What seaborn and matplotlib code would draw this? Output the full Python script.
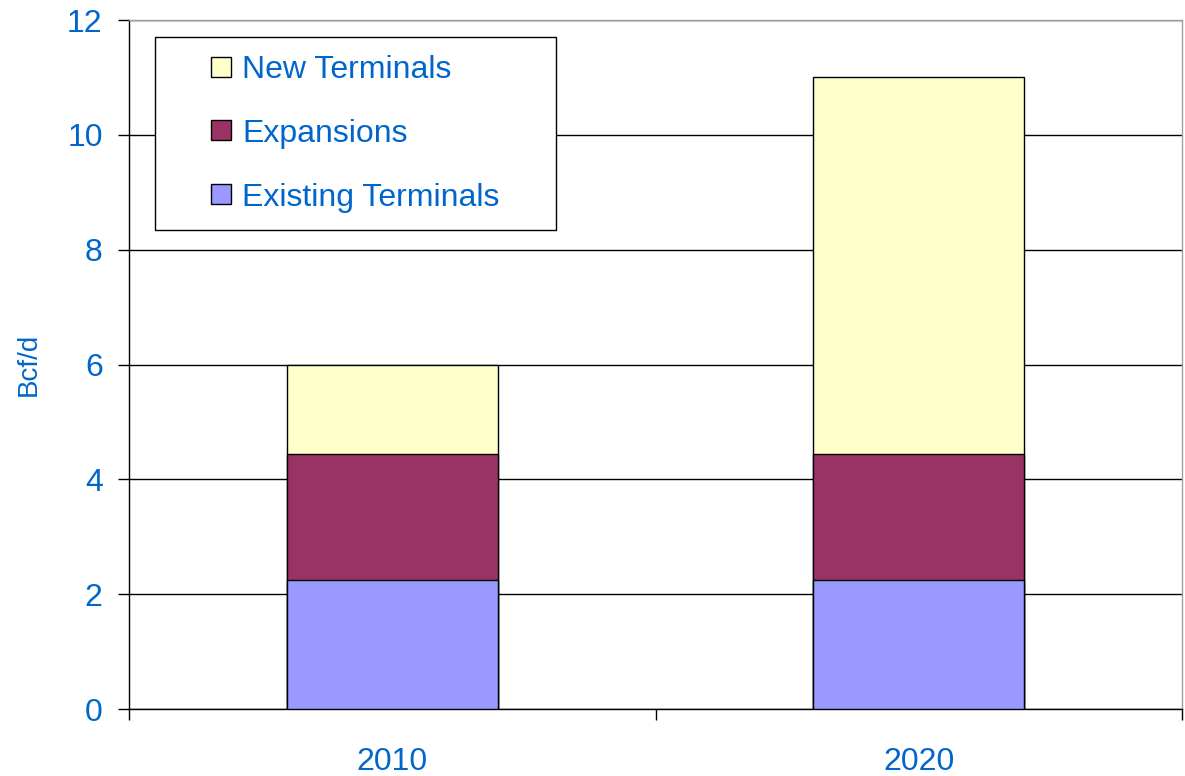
import matplotlib
matplotlib.use("Agg")
import matplotlib.pyplot as plt
from matplotlib.lines import Line2D
import numpy as np
import pandas as pd
import seaborn as sns

years = ["2010", "2020"]
existing = [2.25, 2.25]
expansions = [2.2, 2.2]
new_terminals = [1.55, 6.55]

series_names = ["New Terminals", "Expansions", "Existing Terminals"]
colors = {"New Terminals": "#FFFFCC", "Expansions": "#993366", "Existing Terminals": "#9999FF"}
text_color = "#0066CC"

sns.set_theme(style="white")
plt.rcParams["font.family"] = ["Liberation Sans", "DejaVu Sans"]

# cumulative tops so each layer can be drawn over the one above it
tops = {
    "Existing Terminals": np.array(existing),
    "Expansions": np.array(existing) + np.array(expansions),
    "New Terminals": np.array(existing) + np.array(expansions) + np.array(new_terminals),
}

fig = plt.figure(figsize=(11.85, 7.76), dpi=100)
ax = fig.add_axes([0.1089, 0.0863, 0.8886, 0.8879])

for name in series_names:
    df = pd.DataFrame({"Year": years, "Value": tops[name]})
    sns.barplot(data=df, x="Year", y="Value", color=colors[name], width=0.4,
                edgecolor="black", linewidth=1.0, saturation=1, ax=ax, zorder=3)

ax.set_xlim(-0.5, 1.5)
ax.set_ylim(0, 12)
ax.set_yticks(range(0, 13, 2))
ax.yaxis.grid(True, color="black", linewidth=1.0, zorder=0)
ax.set_axisbelow(True)

ax.set_xlabel("")
ax.set_ylabel("Bcf/d", fontsize=20, color=text_color, labelpad=18)

ax.set_xticks([-0.5, 0.5, 1.5], minor=True)
ax.tick_params(axis="x", which="major", length=0, pad=27, labelsize=23, labelcolor=text_color)
ax.tick_params(axis="x", which="minor", length=8, width=1, color="black", direction="out", bottom=True)
ax.tick_params(axis="y", length=8, width=1, color="black", direction="out", left=True,
               pad=11, labelsize=23, labelcolor=text_color)

for side in ["left", "bottom"]:
    ax.spines[side].set_color("black")
    ax.spines[side].set_linewidth(1.0)
for side in ["top", "right"]:
    ax.spines[side].set_color("#A0A0A0")
    ax.spines[side].set_linewidth(1.0)

handles = [Line2D([], [], linestyle="none", marker="s", markersize=15,
                  markerfacecolor=colors[n], markeredgecolor="black", markeredgewidth=1.0)
           for n in series_names]
leg = ax.legend(handles, series_names, loc="upper left",
                bbox_to_anchor=(0.0247, 0.694, 0.381, 0.281), mode="expand",
                borderaxespad=0, fontsize=23, frameon=True, fancybox=False,
                edgecolor="black", framealpha=1, labelspacing=1.06, borderpad=0.55,
                handlelength=3.06, handletextpad=-0.89)
leg.get_frame().set_linewidth(1.0)
for t in leg.get_texts():
    t.set_color(text_color)

fig.savefig("out.png", dpi=100)
